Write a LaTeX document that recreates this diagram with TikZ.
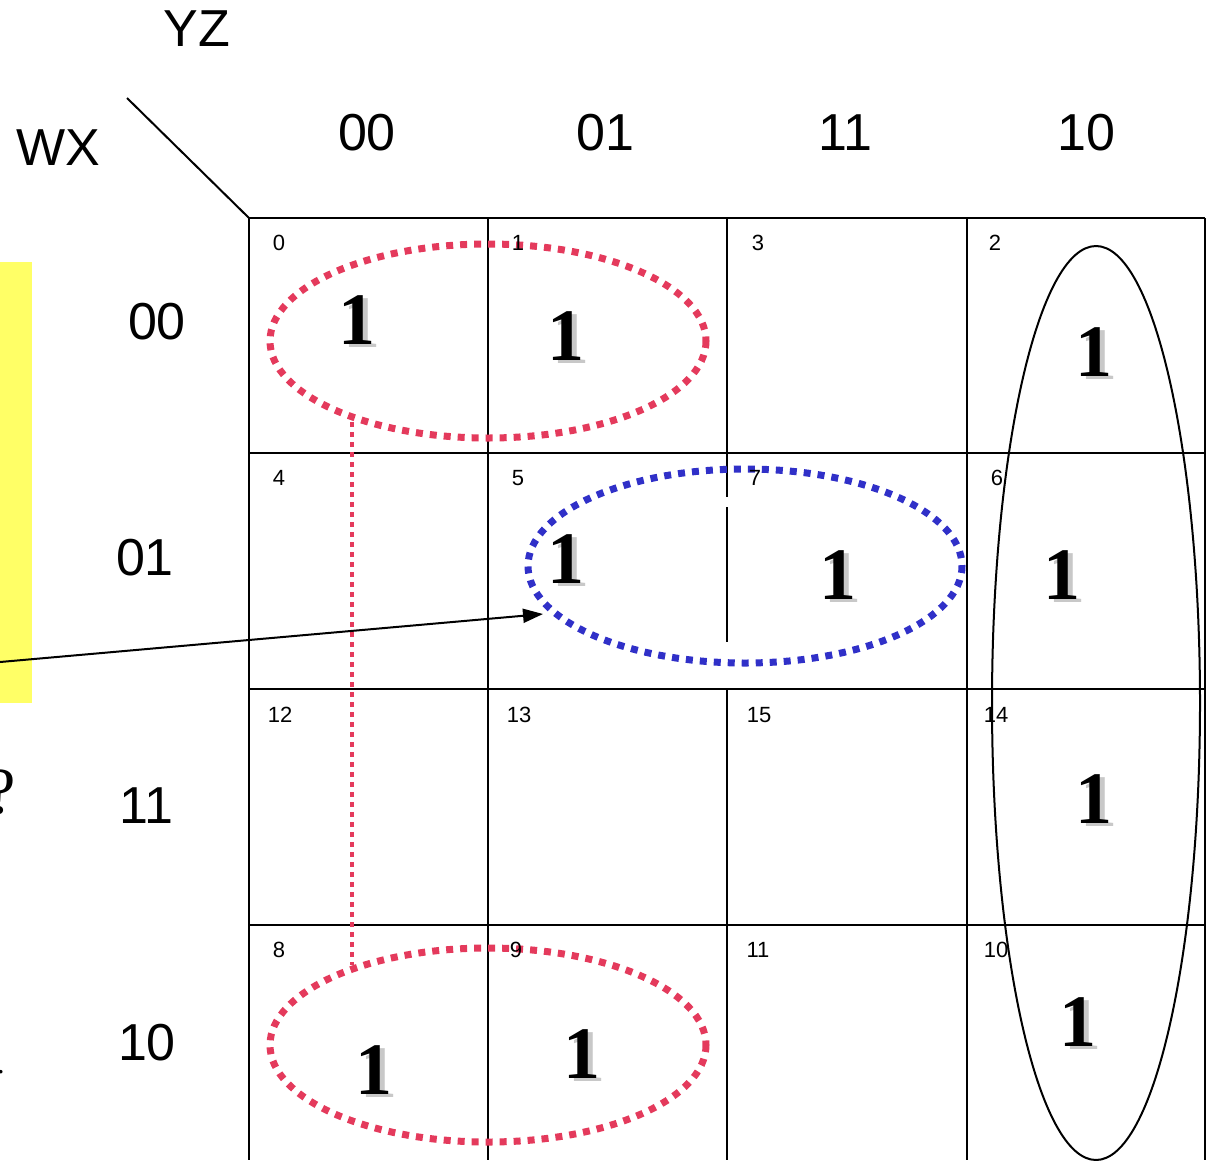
\documentclass[tikz,border=0pt]{standalone}
\usepackage{fontspec}
\setmainfont{Liberation Serif}
\setsansfont{Liberation Sans}
\usetikzlibrary{arrows.meta}
\definecolor{kred}{RGB}{228,58,92}
\definecolor{kblue}{RGB}{48,48,200}
\definecolor{kyellow}{RGB}{255,255,102}
\definecolor{kshadow}{RGB}{200,200,200}
\tikzset{
  hdr/.style={inner sep=0pt, font=\sffamily\fontsize{52}{60}\selectfont},
  cellno/.style={inner sep=0pt, font=\sffamily\fontsize{22}{26}\selectfont},
  gridline/.style={line width=1.5pt, black},
  reddots/.style={kred, line width=7pt, dash pattern=on 7pt off 7pt},
  bluedots/.style={kblue, line width=7pt, dash pattern=on 7pt off 7pt},
  thinreddots/.style={kred, line width=4.5pt, dash pattern=on 5pt off 5pt},
  one/.style={inner sep=0pt, font=\bfseries\fontsize{74}{80}\selectfont},
  oneshadow/.style={inner sep=0pt, text=kshadow, font=\bfseries\fontsize{74}{80}\selectfont},
}
\newcommand{\kone}[3]{%
  \node[oneshadow] (#1s) at (#2+5,#3+3) {1};
  \node[one] (#1) at (#2,#3) {1};}
\begin{document}
\begin{tikzpicture}[x=1pt,y=-1pt]
\useasboundingbox (0,0) rectangle (1206,1160);
% yellow side box
\fill[kyellow] (0,262) rectangle (32,703);
% partial glyphs at the left edge
\node[inner sep=0pt, anchor=west, font=\fontsize{66}{70}\selectfont] (qmark) at (-14,792) {?};
\node[inner sep=0pt, font=\fontsize{30}{34}\selectfont] (ldot) at (1,1072) {.};
% grid
\draw[gridline] (249,218) -- (1205,218);
\draw[gridline] (249,453) -- (1205,453);
\draw[gridline] (249,689) -- (1205,689);
\draw[gridline] (249,925) -- (1205,925);
\draw[gridline] (249,218) -- (249,1160);
\draw[gridline] (488,218) -- (488,1160);
\draw[gridline] (727,218) -- (727,497);
\draw[gridline] (727,507) -- (727,642);
\draw[gridline] (727,689) -- (727,1160);
\draw[gridline] (967,218) -- (967,1160);
\draw[gridline] (1205,218) -- (1205,1160);
% diagonal
\coordinate (dgA) at (127,98);
\coordinate (dgB) at (249,218);
\draw[line width=2pt] (dgA) -- (dgB);
% headers
\node[hdr] (yz) at (197,29) {YZ};
\node[hdr] (wx) at (58,148) {WX};
\node[hdr] (c00) at (367,133) {00};
\node[hdr] (c01) at (605,133) {01};
\node[hdr] (c11) at (845,133) {11};
\node[hdr] (c10) at (1086,133) {10};
\node[hdr] (r00) at (157,322) {00};
\node[hdr] (r01) at (145,558) {01};
\node[hdr] (r11) at (146,806) {11};
\node[hdr] (r10) at (147,1043) {10};
% groupings
\draw[thinreddots] (352,422) -- (352,965);
\draw[reddots] (488,341) ellipse [x radius=218, y radius=97];
\draw[reddots] (488,1045) ellipse [x radius=218, y radius=97];
\draw[bluedots] (745,566) ellipse [x radius=217, y radius=97];
\draw[line width=2pt] (1096,703) ellipse [x radius=104, y radius=457];
% cell numbers
\node[cellno] (n0) at (279,243) {0};
\node[cellno] (n1) at (518,243) {1};
\node[cellno] (n3) at (758,243) {3};
\node[cellno] (n2) at (995,243) {2};
\node[cellno] (n4) at (279,478) {4};
\node[cellno] (n5) at (518,478) {5};
\node[cellno] (n7) at (755,478) {7};
\node[cellno] (n6) at (997,478) {6};
\node[cellno] (n12) at (280,715) {12};
\node[cellno] (n13) at (519,715) {13};
\node[cellno] (n15) at (759,715) {15};
\node[cellno] (n14) at (996,715) {14};
\node[cellno] (n8) at (279,950) {8};
\node[cellno] (n9) at (516,950) {9};
\node[cellno] (n11) at (758,950) {11};
\node[cellno] (n10) at (996,950) {10};
% ones
\kone{o0}{357}{320}
\kone{o1}{566}{336}
\kone{o2}{1094}{352}
\kone{o5}{566}{559}
\kone{o7}{838}{575}
\kone{o6}{1062}{575}
\kone{o14}{1094}{799}
\kone{o8}{374}{1070}
\kone{o9}{582}{1054}
\kone{o10}{1078}{1022}
% arrow
\coordinate (arrS) at (0,662);
\coordinate (arrE) at (543,614);
\draw[line width=2pt, -{Triangle[length=20pt,width=14pt]}] (arrS) -- (arrE);
\end{tikzpicture}
\end{document}
